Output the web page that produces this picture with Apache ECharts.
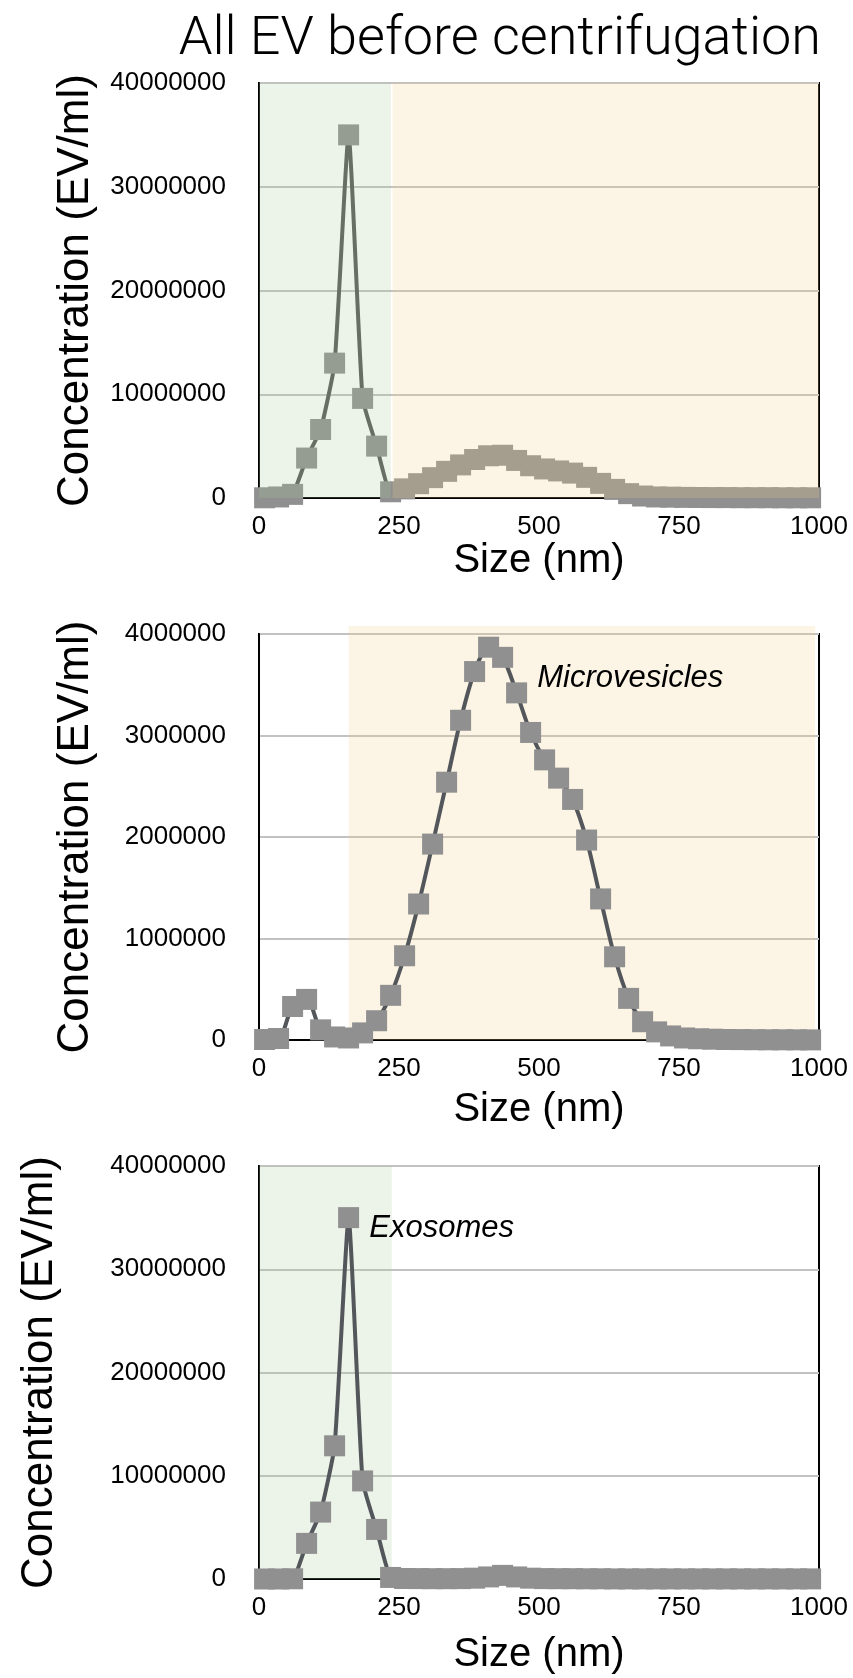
<!DOCTYPE html>
<html>
<head>
<meta charset="utf-8">
<script src="https://cdn.jsdelivr.net/npm/echarts@6/dist/echarts.min.js"></script>
<style>
  html, body { margin: 0; padding: 0; background: #fff; }
  #main { width: 853px; height: 1678px; }
</style>
</head>
<body>
<div id="main"></div>
<script>
// particle size bins (nm)
const sizes = [10, 35, 60, 85, 110, 135, 160, 185, 210, 235,
  260, 285, 310, 335, 360, 385, 410, 435, 460, 485,
  510, 535, 560, 585, 610, 635, 660, 685, 710, 735,
  760, 785, 810, 835, 860, 885, 910, 935, 960, 985];

// concentration (EV/ml), all EV before centrifugation
const allEv = [20000, 100000, 350000, 3850000, 6600000, 13000000, 35000000, 9600000, 5000000, 600000,
  880000, 1380000, 1960000, 2570000, 3190000, 3710000, 4070000, 4120000, 3620000, 3110000,
  2800000, 2610000, 2400000, 1990000, 1410000, 830000, 420000, 190000, 100000, 80000,
  60000, 50000, 40000, 40000, 30000, 30000, 30000, 20000, 20000, 20000];

// microvesicle fraction
const microvesicles = [5000, 15000, 330000, 400000, 100000, 30000, 20000, 70000, 190000, 440000,
  830000, 1340000, 1930000, 2540000, 3150000, 3630000, 3870000, 3770000, 3420000, 3030000,
  2760000, 2580000, 2370000, 1970000, 1390000, 820000, 410000, 180000, 80000, 40000,
  20000, 12000, 8000, 5000, 4000, 3000, 2000, 2000, 1500, 1000];

// exosome fraction
const exosomes = [0, 0, 20000, 3450000, 6480000, 12900000, 35000000, 9500000, 4800000, 150000,
  50000, 40000, 30000, 30000, 40000, 80000, 200000, 350000, 200000, 80000,
  40000, 30000, 30000, 20000, 20000, 10000, 10000, 10000, 10000, 10000,
  10000, 10000, 10000, 10000, 10000, 10000, 10000, 10000, 10000, 10000];

// shaded size ranges: [from nm, to nm, up to concentration]
const exoRange1 = [0, 235.5, 40000000];
const mvRange1 = [238.5, 1000, 40000000];
const mvRange2 = [160, 993, 4080000];
const exoRange3 = [0, 237, 40000000];

const yMax = [40000000, 4000000, 40000000];
const yStep = [10000000, 1000000, 10000000];

const GREEN = 'rgba(167,199,148,0.22)';
const BEIGE = 'rgba(241,205,132,0.22)';

const chart = echarts.init(document.getElementById('main'));

const tops = [83, 634, 1166];
const heights = [415, 406, 413];
const yNameGap = [161, 161, 197];
const xNameGap = [36, 50, 56];

function pairs(vals) {
  return sizes.map((s, i) => [s, vals[i]]);
}

function rectItem(params, api) {
  const p0 = api.coord([api.value(0), 0]);
  const p1 = api.coord([api.value(1), api.value(2)]);
  return {
    type: 'rect',
    shape: { x: p0[0], y: p1[1], width: p1[0] - p0[0], height: p0[1] - p1[1] },
    style: { fill: api.visual('color') }
  };
}

const plain = v => String(v);

const grid = [], xAxis = [], yAxis = [];
for (let i = 0; i < 3; i++) {
  grid.push({
    left: 259, right: 34, top: tops[i], height: heights[i],
    show: true, borderColor: '#000', borderWidth: 2, backgroundColor: 'transparent'
  });
  xAxis.push({
    type: 'value', gridIndex: i, min: 0, max: 1000, interval: 250,
    name: 'Size (nm)', nameLocation: 'middle', nameGap: xNameGap[i],
    nameTextStyle: { fontFamily: 'Liberation Sans', fontSize: 40, color: '#000' },
    axisLine: { show: true, lineStyle: { color: '#000', width: 2 } },
    axisTick: { show: false },
    splitLine: { show: false },
    axisLabel: { fontFamily: 'Liberation Sans', fontSize: 26, color: '#000', margin: 16, formatter: plain }
  });
  yAxis.push({
    type: 'value', gridIndex: i, min: 0, max: yMax[i], interval: yStep[i],
    name: 'Concentration (EV/ml)', nameLocation: 'middle', nameGap: yNameGap[i],
    nameTextStyle: { fontFamily: 'Liberation Sans', fontSize: 44, color: '#000' },
    axisLine: { show: true, lineStyle: { color: '#000', width: 2 } },
    axisTick: { show: false },
    splitLine: { show: true, lineStyle: { color: '#c2c2c2', width: 2 } },
    axisLabel: { fontFamily: 'Liberation Sans', fontSize: 26, color: '#000', margin: 33, formatter: plain }
  });
}

function dataSeries(idx, vals, extra) {
  return Object.assign({
    type: 'line', xAxisIndex: idx, yAxisIndex: idx, z: 3,
    data: pairs(vals),
    smooth: 0.15,
    clip: false,
    symbol: 'rect', symbolSize: 21,
    itemStyle: { color: '#909090' },
    lineStyle: { color: '#53575b', width: 4 },
    emphasis: { disabled: true }
  }, extra || {});
}

function areaSeries(idx, ranges, colors, z) {
  return {
    type: 'custom', xAxisIndex: idx, yAxisIndex: idx, z: z,
    renderItem: rectItem,
    clip: false,
    silent: true,
    data: ranges.map((r, k) => ({ value: r, itemStyle: { color: colors[k] } }))
  };
}

function noteMark(coord, text) {
  return {
    symbol: 'rect', symbolSize: 1,
    itemStyle: { color: 'rgba(0,0,0,0)' },
    silent: true,
    data: [{ coord: coord }],
    label: {
      show: true, position: 'right', distance: 0, formatter: text,
      fontFamily: 'Liberation Sans', fontStyle: 'italic', fontSize: 31, color: '#000'
    }
  };
}

const option = {
  animation: false,
  backgroundColor: '#fff',
  title: {
    text: 'All EV before centrifugation',
    right: 27, top: 8,
    textStyle: { fontFamily: 'Roboto', fontWeight: 300, fontSize: 54, color: '#000' }
  },
  grid: grid,
  xAxis: xAxis,
  yAxis: yAxis,
  series: [
    // chart 1: shading sits on top of the data
    dataSeries(0, allEv, { lineStyle: { color: '#555555', width: 4 } }),
    areaSeries(0, [exoRange1, mvRange1], [GREEN, BEIGE], 5),
    // chart 2
    areaSeries(1, [mvRange2], [BEIGE], 1),
    dataSeries(1, microvesicles, { smooth: 0.3, markPoint: noteMark([496, 3560000], 'Microvesicles') }),
    // chart 3
    areaSeries(2, [exoRange3], [GREEN], 1),
    dataSeries(2, exosomes, { markPoint: noteMark([196, 34000000], 'Exosomes') })
  ]
};

chart.setOption(option);
</script>
</body>
</html>
